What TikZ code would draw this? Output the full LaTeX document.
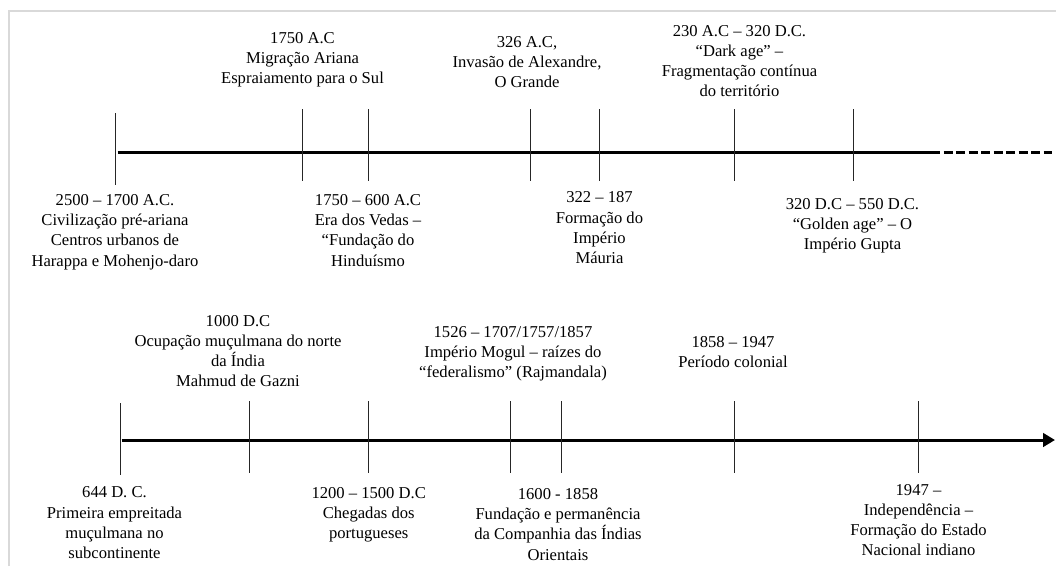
\documentclass[tikz,border=0pt]{standalone}
\usepackage{fontspec}
\setmainfont{Liberation Serif}
\usetikzlibrary{arrows.meta}
\begin{document}
\begin{tikzpicture}[x=1pt,y=-1pt,
  lbl/.style={font=\fontsize{16.6}{20.2}\selectfont, align=center, inner sep=0pt, anchor=north},
  tickline/.style={line width=1pt, draw=black!85},
  axisline/.style={line width=3pt, draw=black},
  framebar/.style={line width=2pt, draw=black!15}]
\useasboundingbox (0,0) rectangle (1056,566);
% frame
\coordinate (fTL) at (8.5,11);
\coordinate (fTR) at (1056,11);
\coordinate (fBL) at (8.5,566);
\draw[framebar] (fBL) -- (fTL) -- (fTR);

% ---------- top timeline ----------
\coordinate (a1) at (117.7,152.3);
\coordinate (a2) at (931,152.3);
\coordinate (a3) at (1052,152.3);
\draw[axisline] (a1) -- (a2);
\draw[axisline, dash pattern=on 9pt off 3.5pt] (a2) -- (a3);

\coordinate (t1u) at (115.7,113.3); \coordinate (t1d) at (115.7,185);
\coordinate (t2u) at (302.3,109);   \coordinate (t2d) at (302.3,181);
\coordinate (t3u) at (368.7,109);   \coordinate (t3d) at (368.7,181);
\coordinate (t4u) at (530,109);     \coordinate (t4d) at (530,181);
\coordinate (t5u) at (599,109);     \coordinate (t5d) at (599,181);
\coordinate (t6u) at (734,109);     \coordinate (t6d) at (734,181);
\coordinate (t7u) at (853.3,109);   \coordinate (t7d) at (853.3,181);
\foreach \i in {1,...,7} {\draw[tickline] (t\i u) -- (t\i d);}

\node[lbl] (l1) at (302.5,32.3) {1750 A.C\\Migração Ariana\\Espraiamento para o Sul};
\node[lbl] (l2) at (527,36) {326 A.C,\\Invasão de Alexandre,\\O Grande};
\node[lbl] (l3) at (739.5,25) {230 A.C – 320 D.C.\\“Dark age” –\\Fragmentação contínua\\do território};
\node[lbl] (l4) at (115,194.3) {2500 – 1700 A.C.\\Civilização pré-ariana\\Centros urbanos de\\Harappa e Mohenjo-daro};
\node[lbl] (l5) at (368,194.3) {1750 – 600 A.C\\Era dos Vedas –\\“Fundação do\\Hinduísmo};
\node[lbl] (l6) at (599.5,191.7) {322 – 187\\Formação do\\Império\\Máuria};
\node[lbl] (l7) at (852.5,198.3) {320 D.C – 550 D.C.\\“Golden age” – O\\Império Gupta};

% ---------- bottom timeline ----------
\coordinate (c1) at (121.7,440);
\coordinate (c2) at (1055,440);
\draw[axisline, -{Triangle[length=12pt,width=13.5pt]}] (c1) -- (c2);

\coordinate (b1u) at (120.7,403);   \coordinate (b1d) at (120.7,475);
\coordinate (b2u) at (249.3,401);   \coordinate (b2d) at (249.3,473);
\coordinate (b3u) at (368.7,401);   \coordinate (b3d) at (368.7,473);
\coordinate (b4u) at (510.3,401);   \coordinate (b4d) at (510.3,473);
\coordinate (b5u) at (561,401);     \coordinate (b5d) at (561,473);
\coordinate (b6u) at (734,401);     \coordinate (b6d) at (734,473);
\coordinate (b7u) at (918.7,401);   \coordinate (b7d) at (918.7,473);
\foreach \i in {1,...,7} {\draw[tickline] (b\i u) -- (b\i d);}

\node[lbl] (m1) at (238,315) {1000 D.C\\Ocupação muçulmana do norte\\da Índia\\Mahmud de Gazni};
\node[lbl] (m2) at (513,326) {1526 – 1707/1757/1857\\Império Mogul – raízes do\\“federalismo” (Rajmandala)};
\node[lbl] (m3) at (733,336) {1858 – 1947\\Período colonial};
\node[lbl] (m4) at (114.5,486.7) {644 D. C.\\Primeira empreitada\\muçulmana no\\subcontinente};
\node[lbl] (m5) at (368.7,487) {1200 – 1500 D.C\\Chegadas dos\\portugueses};
\node[lbl] (m6) at (558,488.3) {1600 - 1858\\Fundação e permanência\\da Companhia das Índias\\Orientais};
\node[lbl] (m7) at (918.5,484) {1947 –\\Independência –\\Formação do Estado\\Nacional indiano};
\end{tikzpicture}
\end{document}
